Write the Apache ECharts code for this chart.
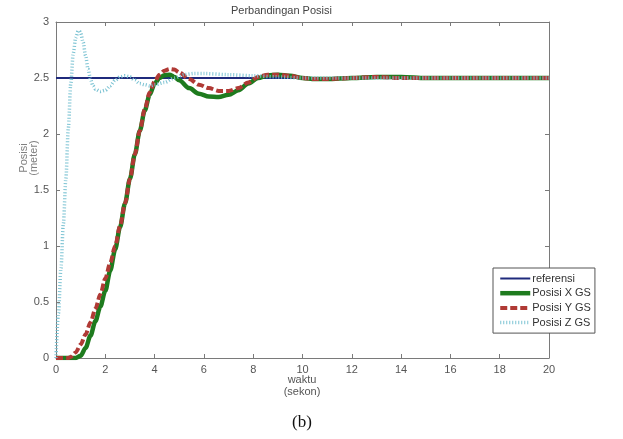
<!DOCTYPE html>
<html>
<head>
<meta charset="utf-8">
<script src="https://cdn.jsdelivr.net/npm/echarts@6/dist/echarts.min.js"></script>
<style>
html,body{margin:0;padding:0;background:#fff;}
#chart{width:623px;height:439px;}
</style>
</head>
<body>
<div id="chart"></div>
<script>
// ---- data ----
const titleText = 'Perbandingan Posisi';
const seriesNames = ['referensi', 'Posisi X GS', 'Posisi Y GS', 'Posisi Z GS'];
const xTicks = [0, 2, 4, 6, 8, 10, 12, 14, 16, 18, 20];
const yTicks = [0, 0.5, 1, 1.5, 2, 2.5, 3];

const refT = [0, 20];
const refY = [2.5, 2.5];

const xT = [0, 0.5, 0.8, 1.0, 1.2, 1.4, 1.6, 1.8, 2.0, 2.2, 2.4, 2.6, 2.8, 3.0, 3.2, 3.4, 3.6, 3.8, 4.0, 4.2, 4.4, 4.6, 4.8, 5.0, 5.4, 5.8, 6.2, 6.6, 7.0, 7.4, 7.8, 8.2, 8.6, 9.0, 9.5, 10, 10.5, 11, 12, 13, 14, 15, 16, 17, 18, 19, 20];
const posX = [0, 0, 0, 0.02, 0.09, 0.2, 0.33, 0.46, 0.6, 0.78, 0.97, 1.17, 1.38, 1.6, 1.82, 2.03, 2.21, 2.35, 2.45, 2.5, 2.525, 2.53, 2.51, 2.48, 2.41, 2.36, 2.335, 2.33, 2.35, 2.39, 2.45, 2.5, 2.525, 2.53, 2.52, 2.5, 2.49, 2.49, 2.5, 2.51, 2.51, 2.5, 2.5, 2.5, 2.5, 2.5, 2.5];

const yT = [0, 0.5, 0.6, 0.8, 1.0, 1.2, 1.4, 1.6, 1.8, 2.0, 2.2, 2.4, 2.6, 2.8, 3.0, 3.2, 3.4, 3.6, 3.8, 4.0, 4.2, 4.4, 4.6, 4.8, 5.0, 5.4, 5.8, 6.2, 6.6, 7.0, 7.4, 7.8, 8.2, 8.6, 9.0, 9.5, 10, 10.5, 11, 12, 13, 14, 15, 16, 17, 18, 19, 20];
const posY = [0, 0, 0.01, 0.05, 0.12, 0.21, 0.32, 0.44, 0.57, 0.71, 0.85, 1.0, 1.18, 1.38, 1.6, 1.82, 2.03, 2.22, 2.37, 2.47, 2.53, 2.565, 2.58, 2.575, 2.55, 2.49, 2.44, 2.41, 2.385, 2.385, 2.41, 2.46, 2.51, 2.53, 2.53, 2.52, 2.5, 2.49, 2.49, 2.5, 2.51, 2.5, 2.5, 2.5, 2.5, 2.5, 2.5, 2.5];

const zT = [0, 0.1, 0.2, 0.3, 0.4, 0.5, 0.6, 0.7, 0.8, 0.9, 0.95, 1.0, 1.1, 1.2, 1.3, 1.4, 1.5, 1.6, 1.8, 2.0, 2.2, 2.4, 2.6, 2.8, 3.0, 3.2, 3.4, 3.6, 3.8, 4.0, 4.4, 4.8, 5.2, 5.6, 6.0, 7, 8, 9, 10, 12, 14, 16, 18, 20];
const posZ = [0, 0.4, 0.8, 1.2, 1.6, 2.05, 2.45, 2.72, 2.86, 2.92, 2.92, 2.9, 2.82, 2.7, 2.58, 2.49, 2.43, 2.4, 2.38, 2.39, 2.43, 2.48, 2.51, 2.52, 2.51, 2.48, 2.45, 2.44, 2.43, 2.44, 2.46, 2.5, 2.53, 2.54, 2.54, 2.53, 2.52, 2.51, 2.5, 2.5, 2.5, 2.5, 2.5, 2.5];

const pairs = (t, v) => t.map((x, i) => [x, v[i]]);

const axisColor = '#7a7a7a';
const labelColor = '#555';
const font = 'Liberation Sans, Arial, sans-serif';

const chart = echarts.init(document.getElementById('chart'), null, {renderer: 'canvas'});
const mkX = (pos, showLabel) => ({
  type: 'value', min: 0, max: 20, interval: 2, position: pos,
  axisLine: {show: true, onZero: false, lineStyle: {color: axisColor, width: 1}},
  axisTick: {show: true, inside: true, length: 4, lineStyle: {color: axisColor}},
  axisLabel: showLabel ? {color: labelColor, fontSize: 11, fontFamily: font, margin: 6} : {show: false},
  splitLine: {show: false}
});
const mkY = (pos, showLabel) => ({
  type: 'value', min: 0, max: 3, interval: 0.5, position: pos,
  axisLine: {show: true, onZero: false, lineStyle: {color: axisColor, width: 1}},
  axisTick: {show: true, inside: true, length: 4, lineStyle: {color: axisColor}},
  axisLabel: showLabel ? {color: labelColor, fontSize: 11, fontFamily: font, margin: 7} : {show: false},
  splitLine: {show: false}
});
chart.setOption({
  animation: false,
  backgroundColor: '#fff',
  grid: {left: 56, right: 74, top: 22, bottom: 81},
  xAxis: [mkX('bottom', true), mkX('top', false)],
  yAxis: [mkY('left', true), mkY('right', false)],
  legend: {
    orient: 'vertical', left: 493, top: 268,
    data: seriesNames,
    itemWidth: 30, itemHeight: 11, itemGap: 3.7,
    padding: [5, 4, 5, 5],
    borderColor: '#555', borderWidth: 1, backgroundColor: '#fff',
    itemStyle: {opacity: 0},
    lineStyle: {width: 'inherit'},
    textStyle: {color: '#333', fontSize: 11, fontFamily: font, padding: [0, 0, 0, -3]}
  },
  graphic: [
    {type: 'text', left: 231, top: 5, style: {text: titleText, fill: '#444', fontSize: 11, fontFamily: font}},
    {type: 'text', rotation: Math.PI / 2, x: 19, y: 158, style: {text: 'Posisi\n(meter)', fill: '#808080', fontSize: 11, fontFamily: font, align: 'center', verticalAlign: 'top', lineHeight: 10}},
    {type: 'text', x: 302, y: 374, style: {text: 'waktu\n(sekon)', fill: '#555', fontSize: 11, fontFamily: font, align: 'center', verticalAlign: 'top', lineHeight: 12}},
    {type: 'text', x: 302, y: 414, style: {text: '(b)', fill: '#111', fontSize: 17, fontFamily: 'Liberation Serif, Times New Roman, serif', align: 'center', verticalAlign: 'top'}}
  ],
  series: [
    {name: seriesNames[0], type: 'line', showSymbol: false, symbol: 'none', data: pairs(refT, refY),
      lineStyle: {color: '#1f2a7c', width: 2}, itemStyle: {color: '#1f2a7c'}},
    {name: seriesNames[1], type: 'line', showSymbol: false, symbol: 'none', data: pairs(xT, posX), smooth: 0.3, smoothMonotone: 'x',
      lineStyle: {color: '#1e7b1e', width: 4.5}, itemStyle: {color: '#1e7b1e'}},
    {name: seriesNames[2], type: 'line', showSymbol: false, symbol: 'none', data: pairs(yT, posY), smooth: 0.3, smoothMonotone: 'x',
      lineStyle: {color: '#b03a35', width: 4, type: [7, 3]}, itemStyle: {color: '#b03a35'}},
    {name: seriesNames[3], type: 'line', showSymbol: false, symbol: 'none', data: pairs(zT, posZ), smooth: 0.3, smoothMonotone: 'x',
      lineStyle: {color: '#7cc3d3', width: 3.5, type: [1, 2]}, itemStyle: {color: '#7cc3d3'}}
  ]
});
</script>
</body>
</html>
